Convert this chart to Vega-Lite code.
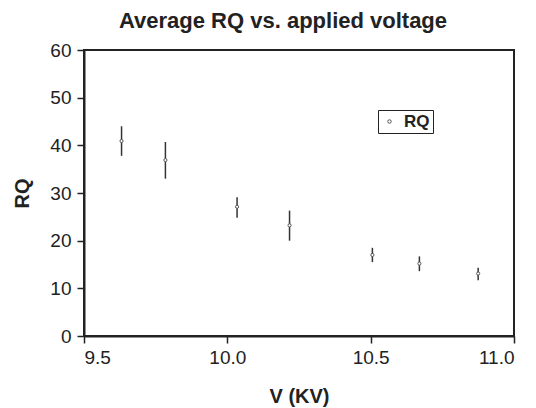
{
  "$schema": "https://vega.github.io/schema/vega-lite/v6.json",
  "autosize": "none",
  "padding": {"left": 84, "top": 50, "right": 22, "bottom": 72},
  "width": 430,
  "height": 286,
  "background": "white",
  "title": {
    "text": "Average RQ vs. applied voltage",
    "font": "Liberation Sans",
    "fontSize": 22,
    "fontWeight": "bold",
    "color": "#222",
    "offset": 8,
    "dx": -16,
    "anchor": "middle"
  },
  "config": {
    "view": {"stroke": "#222", "strokeWidth": 2},
    "axis": {
      "labelFont": "Liberation Sans",
      "labelFontSize": 19,
      "labelColor": "#222",
      "titleFont": "Liberation Sans",
      "titleFontSize": 20,
      "titleFontWeight": "bold",
      "titleColor": "#222",
      "domainColor": "#222",
      "domainWidth": 2,
      "tickColor": "#222",
      "tickWidth": 1.5,
      "tickSize": 7,
      "grid": false
    }
  },
  "data": {
    "values": [
      {"V": 9.631, "RQ": 40.9, "low": 37.8, "high": 44.0, "series": "RQ"},
      {"V": 9.784, "RQ": 36.9, "low": 33.0, "high": 40.7, "series": "RQ"},
      {"V": 10.034, "RQ": 27.1, "low": 24.8, "high": 29.1, "series": "RQ"},
      {"V": 10.217, "RQ": 23.2, "low": 20.0, "high": 26.3, "series": "RQ"},
      {"V": 10.506, "RQ": 17.0, "low": 15.5, "high": 18.5, "series": "RQ"},
      {"V": 10.670, "RQ": 15.2, "low": 13.6, "high": 16.7, "series": "RQ"},
      {"V": 10.875, "RQ": 13.1, "low": 11.7, "high": 14.3, "series": "RQ"}
    ]
  },
  "layer": [
    {
      "mark": {"type": "rule", "color": "#333", "strokeWidth": 1.5},
      "encoding": {
        "x": {"field": "V", "type": "quantitative"},
        "y": {"field": "low", "type": "quantitative"},
        "y2": {"field": "high"}
      }
    },
    {
      "mark": {"type": "point", "shape": "circle", "filled": true, "fill": "white", "size": 10, "strokeWidth": 1, "opacity": 1},
      "encoding": {
        "x": {
          "field": "V",
          "type": "quantitative",
          "scale": {"domain": [9.5, 11.0], "nice": false, "zero": false},
          "axis": {"values": [9.5, 10.0, 10.5, 11.0], "format": ".1f", "title": "V (KV)", "titlePadding": 19, "labelPadding": 5}
        },
        "y": {
          "field": "RQ",
          "type": "quantitative",
          "scale": {"domain": [0, 60], "nice": false},
          "axis": {"values": [0, 10, 20, 30, 40, 50, 60], "title": "RQ", "titlePadding": 17, "labelPadding": 6}
        },
        "stroke": {
          "field": "series",
          "type": "nominal",
          "scale": {"range": ["#555"]},
          "legend": {
            "title": null,
            "orient": "none",
            "legendX": 294,
            "legendY": 60,
            "strokeColor": "#222",
            "padding": 3,
            "symbolType": "circle",
            "symbolSize": 12,
            "symbolFillColor": "white",
            "symbolStrokeWidth": 1,
            "labelFont": "Liberation Sans",
            "labelFontSize": 17,
            "labelFontWeight": "bold",
            "labelColor": "#222",
            "labelOffset": 6,
            "encode": {"legend": {"update": {"strokeWidth": {"value": 1.5}}}}
          }
        }
      }
    }
  ]
}
